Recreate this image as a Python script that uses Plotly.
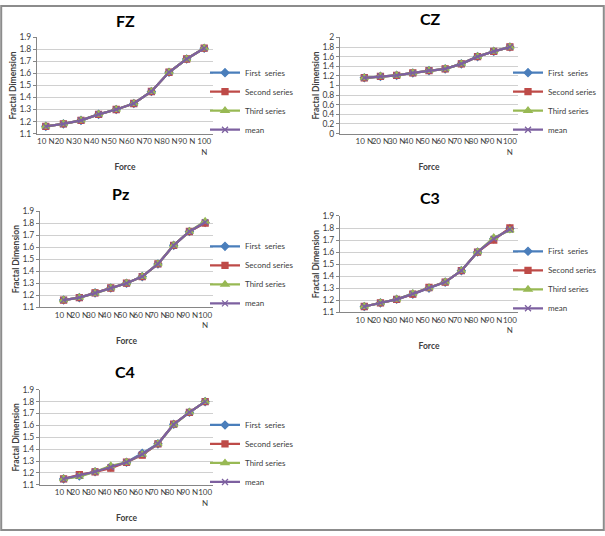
import plotly.graph_objects as go

W, H = 605, 536

forces = ["10 N", "20 N", "30 N", "40 N", "50 N", "60 N", "70 N", "80 N", "90 N", "100 N"]
tick_text = ["10 N", "20 N", "30 N", "40 N", "50 N", "60 N", "70 N", "80 N", "90 N", "100<br>N"]
series_names = ["First\u00a0 series", "Second series", "Third series", "mean"]

# FZ
fz_first = [1.16, 1.18, 1.21, 1.26, 1.30, 1.35, 1.45, 1.61, 1.72, 1.81]
fz_second = [1.16, 1.18, 1.21, 1.26, 1.30, 1.35, 1.45, 1.61, 1.72, 1.81]
fz_third = [1.16, 1.18, 1.21, 1.26, 1.30, 1.35, 1.45, 1.61, 1.72, 1.81]
fz_mean = [1.16, 1.18, 1.21, 1.26, 1.30, 1.35, 1.45, 1.61, 1.72, 1.81]
# CZ
cz_first = [1.16, 1.19, 1.21, 1.26, 1.31, 1.345, 1.45, 1.60, 1.71, 1.80]
cz_second = [1.16, 1.19, 1.21, 1.26, 1.31, 1.345, 1.45, 1.60, 1.71, 1.80]
cz_third = [1.16, 1.19, 1.21, 1.26, 1.31, 1.345, 1.45, 1.60, 1.71, 1.80]
cz_mean = [1.16, 1.19, 1.21, 1.26, 1.31, 1.345, 1.45, 1.60, 1.71, 1.80]
# Pz
pz_first = [1.16, 1.18, 1.22, 1.26, 1.30, 1.355, 1.46, 1.615, 1.73, 1.805]
pz_second = [1.16, 1.18, 1.22, 1.26, 1.30, 1.355, 1.46, 1.615, 1.73, 1.80]
pz_third = [1.16, 1.18, 1.215, 1.26, 1.30, 1.355, 1.46, 1.615, 1.73, 1.815]
pz_mean = [1.16, 1.18, 1.218, 1.26, 1.30, 1.355, 1.46, 1.615, 1.73, 1.807]
# C3
c3_first = [1.147, 1.177, 1.207, 1.25, 1.30, 1.35, 1.445, 1.60, 1.71, 1.795]
c3_second = [1.147, 1.177, 1.207, 1.25, 1.305, 1.35, 1.445, 1.60, 1.70, 1.80]
c3_third = [1.147, 1.177, 1.207, 1.255, 1.30, 1.35, 1.445, 1.60, 1.72, 1.78]
c3_mean = [1.147, 1.177, 1.207, 1.252, 1.302, 1.35, 1.445, 1.60, 1.71, 1.79]
# C4
c4_first = [1.15, 1.175, 1.21, 1.25, 1.29, 1.365, 1.445, 1.61, 1.71, 1.80]
c4_second = [1.15, 1.185, 1.21, 1.24, 1.29, 1.35, 1.445, 1.61, 1.71, 1.80]
c4_third = [1.15, 1.17, 1.21, 1.26, 1.29, 1.355, 1.445, 1.605, 1.71, 1.80]
c4_mean = [1.15, 1.177, 1.21, 1.25, 1.29, 1.357, 1.445, 1.608, 1.71, 1.80]

colors = ["#4A7EBB", "#BE4B48", "#98B954", "#7D60A0"]
symbols = ["diamond", "square", "triangle-up", "x-thin"]
msizes = [6, 6, 7, 6]

FONT = "Lato, 'Liberation Sans', sans-serif"
TXT = "#404040"

# panel geometry in pixels
panels = [
    dict(name="FZ", data=[fz_first, fz_second, fz_third, fz_mean], px=(37, 213), py=(33, 131),
         yr=(1.1, 1.9), dt=0.1, xr=(-0.5, 9.5), title=(125, 16), leg=(205, 98)),
    dict(name="CZ", data=[cz_first, cz_second, cz_third, cz_mean], px=(340, 518), py=(33, 131),
         yr=(0, 2), dt=0.2, xr=(-1.5, 9.5), title=(430, 14), leg=(508, 98)),
    dict(name="Pz", data=[pz_first, pz_second, pz_third, pz_mean], px=(40, 213), py=(210, 308),
         yr=(1.1, 1.9), dt=0.1, xr=(-1.5, 9.5), title=(120, 192), leg=(205, 275)),
    dict(name="C3", data=[c3_first, c3_second, c3_third, c3_mean], px=(340, 518), py=(215, 313),
         yr=(1.1, 1.9), dt=0.1, xr=(-1.5, 9.5), title=(430, 196), leg=(508, 280)),
    dict(name="C4", data=[c4_first, c4_second, c4_third, c4_mean], px=(40, 213), py=(392, 489),
         yr=(1.1, 1.9), dt=0.1, xr=(-1.5, 9.5), title=(125, 373), leg=(205, 457)),
]

fig = go.Figure()
annotations = []
layout_upd = {}

for i, p in enumerate(panels):
    n = i + 1
    xa = "x" if n == 1 else f"x{n}"
    ya = "y" if n == 1 else f"y{n}"
    lg = "legend" if n == 1 else f"legend{n}"
    for s in range(4):
        fig.add_trace(go.Scatter(
            x=forces, y=p["data"][s], name=series_names[s], mode="lines+markers",
            xaxis=xa, yaxis=ya, legend=lg,
            line=dict(color=colors[s], width=2.25),
            marker=dict(symbol=symbols[s], size=msizes[s], color=colors[s],
                        line=dict(color=colors[s], width=1.3)),
        ))
    x0, x1 = p["px"]
    y0, y1 = p["py"]
    xkey = "xaxis" if n == 1 else f"xaxis{n}"
    ykey = "yaxis" if n == 1 else f"yaxis{n}"
    layout_upd[xkey] = dict(
        domain=[x0 / W, x1 / W], anchor=ya, type="category",
        categoryorder="array", categoryarray=forces, range=list(p["xr"]),
        tickvals=forces, ticktext=tick_text, tickangle=0,
        tickfont=dict(family=FONT, size=8, color=TXT),
        showgrid=False, showline=True, linecolor="#868686", linewidth=1,
        ticks="", zeroline=False,
        title=dict(text="<b>Force</b>", font=dict(family=FONT, size=8.5, color=TXT), standoff=8),
    )
    layout_upd[ykey] = dict(
        domain=[1 - y1 / H, 1 - y0 / H], anchor=xa, range=list(p["yr"]),
        dtick=p["dt"], tick0=0, showgrid=True, gridcolor="#d0d0d0", gridwidth=1,
        showline=True, linecolor="#868686", linewidth=1, ticks="outside",
        ticklen=3, tickcolor="#868686", zeroline=False,
        tickfont=dict(family=FONT, size=8.5, color=TXT),
        title=dict(text="<b>Fractal Dimension</b>", font=dict(family=FONT, size=8.5, color=TXT), standoff=1),
    )
    lx, ly = p["leg"]
    layout_upd[lg] = dict(
        x=lx / W, y=1 - ly / H, xanchor="left", yanchor="middle",
        font=dict(family=FONT, size=8, color=TXT), bgcolor="rgba(0,0,0,0)",
        tracegroupgap=0, itemwidth=30,
    )
    tx, ty = p["title"]
    annotations.append(dict(
        text=f"<b>{p['name']}</b>", x=tx / W, y=1 - ty / H, xref="paper", yref="paper",
        showarrow=False, xanchor="center", yanchor="middle",
        font=dict(family=FONT, size=16, color="#000000"),
    ))

fig.update_layout(
    width=W, height=H, margin=dict(l=0, r=0, t=0, b=0),
    paper_bgcolor="white", plot_bgcolor="white",
    annotations=annotations,
    shapes=[dict(type="rect", xref="paper", yref="paper", x0=0.002, y0=0.002, x1=0.998, y1=0.998,
                 line=dict(color="#8c8c8c", width=2))],
    **layout_upd,
)

fig.write_html("out.html", config={"displayModeBar": False},
               post_script="document.body.style.margin='0px';")
